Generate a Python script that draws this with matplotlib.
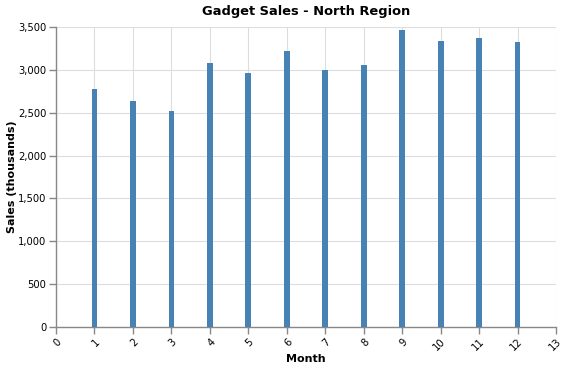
import matplotlib.pyplot as plt
from matplotlib.ticker import FuncFormatter, MultipleLocator

months = [1, 2, 3, 4, 5, 6, 7, 8, 9, 10, 11, 12]
sales = [2780, 2640, 2520, 3080, 2960, 3220, 3000, 3060, 3460, 3340, 3370, 3330]

W, H = 569, 371
fig = plt.figure(figsize=(W / 100, H / 100), dpi=100)
ax = fig.add_axes([56 / W, 44 / H, 500 / W, 300 / H])

ax.bar(months, sales, width=0.15, color="#4682b4", zorder=3)

ax.set_xlim(0, 13)
ax.set_ylim(0, 3500)
ax.xaxis.set_major_locator(MultipleLocator(1))
ax.yaxis.set_major_locator(MultipleLocator(500))
ax.yaxis.set_major_formatter(FuncFormatter(lambda v, p: f"{int(v):,}"))

ax.grid(True, color="#dddddd", linewidth=0.8, zorder=0)
for s in ["top", "right"]:
    ax.spines[s].set_visible(False)
for s in ["left", "bottom"]:
    ax.spines[s].set_color("#888888")
    ax.spines[s].set_linewidth(1)

ax.tick_params(axis="both", colors="#888888", length=5, width=1, labelsize=7.2,
               labelcolor="black", pad=2)
for lab in ax.get_xticklabels():
    lab.set_rotation(45)
    lab.set_ha("right")
    lab.set_va("top")
    lab.set_rotation_mode("anchor")

# titles placed in figure pixels
fig.text(306 / W, 1 - 359 / H, "Month", fontsize=8, fontweight="bold",
         ha="center", va="center")
fig.text(12 / W, 1 - 177 / H, "Sales (thousands)", fontsize=8, fontweight="bold",
         ha="center", va="center", rotation=90)
fig.text(306 / W, 1 - 11 / H, "Gadget Sales - North Region", fontsize=9.4,
         fontweight="bold", ha="center", va="center")

fig.savefig("out.png", dpi=100)
